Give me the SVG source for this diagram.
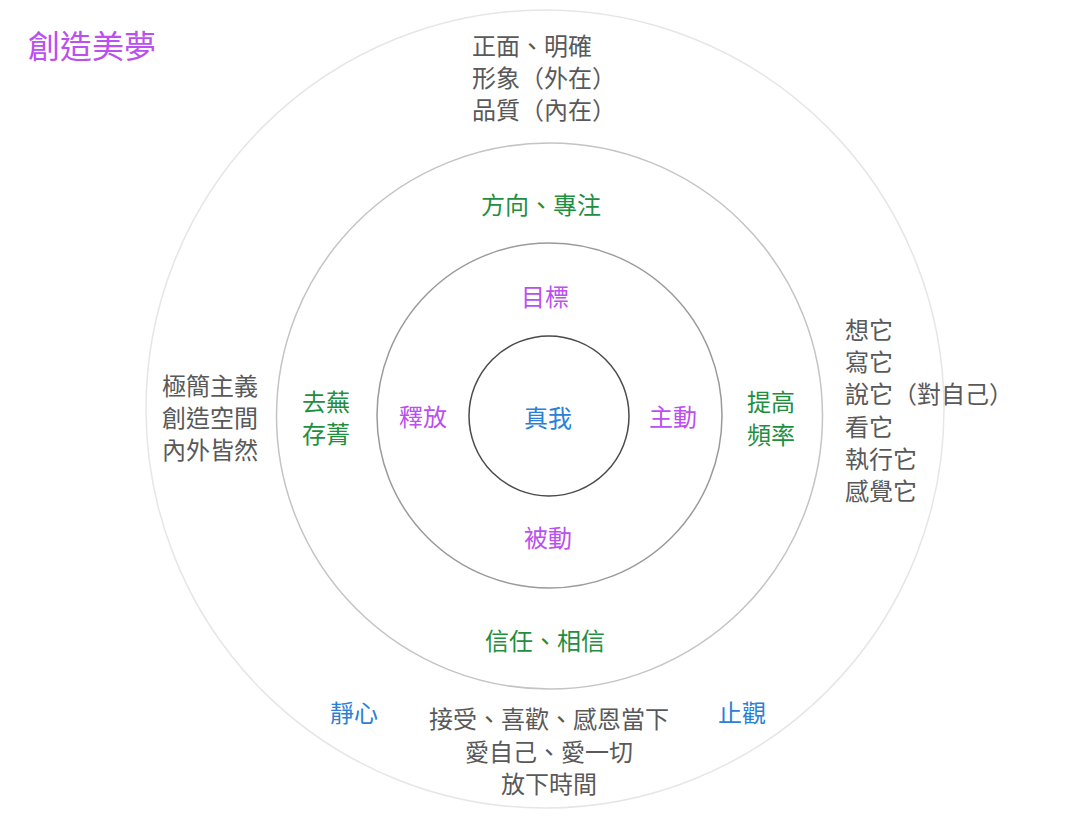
<svg xmlns="http://www.w3.org/2000/svg" width="1090" height="821" viewBox="0 0 1090 821">
<style>
text{font-family:"Noto Sans CJK TC","Noto Sans CJK SC",sans-serif;font-size:24px;dominant-baseline:central}
.g{fill:#595959}
.gr{fill:#1f8f3f}
.p{fill:#bb4ff0}
.b{fill:#2a80d6}
.c{text-anchor:middle}
.ring{fill:none}
</style>
<rect width="1090" height="821" fill="#ffffff"/>
<g id="rings">
<circle id="ring-outer" class="ring" cx="545" cy="409" r="399" stroke="#e6e6e6" stroke-width="1.5"/>
<circle id="ring-2" class="ring" cx="549.5" cy="416" r="273" stroke="#c4c4c4" stroke-width="1.5"/>
<circle id="ring-3" class="ring" cx="549.5" cy="415.5" r="172.5" stroke="#9a9a9a" stroke-width="1.5"/>
<circle id="ring-core" class="ring" cx="549" cy="416" r="80" stroke="#4a4a4a" stroke-width="1.5"/>
</g>
<g id="connectors"></g>
<g id="title"><text x="28" y="44" class="p" style="font-size:32px">創造美夢</text></g>
<g id="core"><text x="548" y="416" class="b c">真我</text></g>
<g id="inner-labels">
<text x="545" y="295" class="p c">目標</text>
<text x="673" y="415" class="p c">主動</text>
<text x="423" y="415" class="p c">釋放</text>
<text x="548" y="536" class="p c">被動</text>
</g>
<g id="middle-labels">
<text x="541" y="203" class="gr c">方向、專注</text>
<text x="545" y="639" class="gr c">信任、相信</text>
<text x="302" y="400" class="gr">去蕪</text>
<text x="302" y="432" class="gr">存菁</text>
<text x="747" y="400" class="gr">提高</text>
<text x="747" y="433" class="gr">頻率</text>
</g>
<g id="outer-top">
<text x="472" y="44" class="g">正面、明確</text>
<text x="472" y="76" class="g">形象（外在）</text>
<text x="472" y="108" class="g">品質（內在）</text>
</g>
<g id="outer-left">
<text x="162" y="384" class="g">極簡主義</text>
<text x="162" y="416" class="g">創造空間</text>
<text x="162" y="448" class="g">內外皆然</text>
</g>
<g id="outer-right">
<text x="845" y="328" class="g">想它</text>
<text x="845" y="360" class="g">寫它</text>
<text x="845" y="392" class="g">說它（對自己）</text>
<text x="845" y="425" class="g">看它</text>
<text x="845" y="457" class="g">執行它</text>
<text x="845" y="489" class="g">感覺它</text>
</g>
<g id="outer-bottom">
<text x="549" y="717" class="g c">接受、喜歡、感恩當下</text>
<text x="549" y="750" class="g c">愛自己、愛一切</text>
<text x="549" y="782" class="g c">放下時間</text>
</g>
<g id="side-bottom">
<text x="354" y="711" class="b c">靜心</text>
<text x="742" y="711" class="b c">止觀</text>
</g>
</svg>
